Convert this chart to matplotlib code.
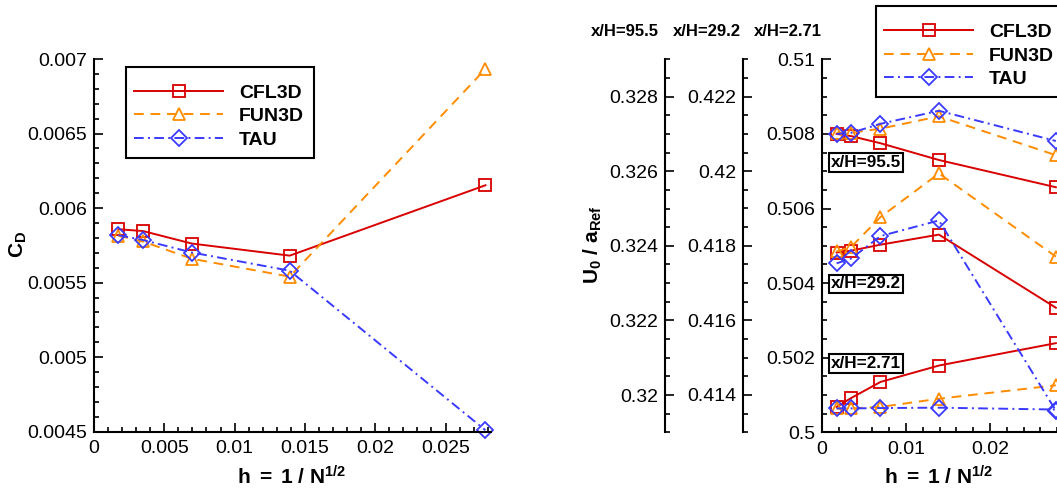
import numpy as np
import matplotlib
matplotlib.use("Agg")
import matplotlib.pyplot as plt
from matplotlib.ticker import MultipleLocator, FuncFormatter
from matplotlib.patches import Rectangle

plt.rcParams['font.family'] = ['Liberation Sans', 'DejaVu Sans']
plt.rcParams['mathtext.fontset'] = 'custom'
plt.rcParams['mathtext.rm'] = 'Liberation Sans'
plt.rcParams['mathtext.it'] = 'Liberation Sans:italic'
plt.rcParams['mathtext.bf'] = 'Liberation Sans:bold'

# grid spacing h = 1 / N^(1/2)
h = [0.00174, 0.00348, 0.00696, 0.01392, 0.02784]
codes = ['CFL3D', 'FUN3D', 'TAU']

# drag coefficient
cd_cfl3d = [0.005858, 0.005846, 0.005762, 0.005681, 0.006153]
cd_fun3d = [0.005815, 0.005776, 0.005660, 0.005540, 0.006933]
cd_tau = [0.005818, 0.005786, 0.005702, 0.005580, 0.004510]

# U0 / aRef at three stations
u955_cfl3d = [0.32700, 0.32694, 0.32675, 0.32630, 0.32557]
u955_fun3d = [0.32703, 0.32703, 0.32714, 0.32747, 0.32643]
u955_tau = [0.32700, 0.32703, 0.32727, 0.32762, 0.32681]

u292_cfl3d = [0.41782, 0.41787, 0.41803, 0.41830, 0.41634]
u292_fun3d = [0.41785, 0.41797, 0.41877, 0.41994, 0.41771]
u292_tau = [0.41753, 0.41766, 0.41826, 0.41868, 0.41358]

u271_cfl3d = [0.50068, 0.50092, 0.50135, 0.50179, 0.50239]
u271_fun3d = [0.50064, 0.50064, 0.50068, 0.50090, 0.50126]
u271_tau = [0.50064, 0.50064, 0.50065, 0.50066, 0.50061]

colors = {'CFL3D': '#d80000', 'FUN3D': '#ff8c00', 'TAU': '#3a3aff'}
markers = {'CFL3D': 's', 'FUN3D': '^', 'TAU': 'D'}
msizes = {'CFL3D': 8, 'FUN3D': 9, 'TAU': 7.8}
dashes = {'CFL3D': [], 'FUN3D': [5, 3.5], 'TAU': [5, 2.2, 1, 2.2]}

W, H = 1057, 492
fig = plt.figure(figsize=(W / 100, H / 100), dpi=100)


def px_axes(x0, y0, x1, y1):
    return fig.add_axes([x0 / W, 1 - y1 / H, (x1 - x0) / W, (y1 - y0) / H])


def draw(ax, x, y, code):
    ln, = ax.plot(x, y, color=colors[code], lw=1.4, marker=markers[code],
                  ms=msizes[code], mfc='none', mew=1.3, label=code,
                  clip_on=False)
    if dashes[code]:
        ln.set_dashes(dashes[code])
    return ln


def fmt(v, pos):
    return '%g' % round(v, 6)


def style(ax):
    ax.tick_params(which='both', direction='in', labelsize=14, width=1.2)
    ax.tick_params(which='major', length=6.5, pad=5)
    ax.tick_params(which='minor', length=3.6)
    for s in ax.spines.values():
        s.set_linewidth(1.5)
    ax.spines['top'].set_visible(False)
    ax.spines['right'].set_visible(False)
    ax.patch.set_visible(False)


def legend_box(handles, x0, y0, x1, y1, xh, yc):
    # frame drawn by hand, entries placed inside it
    fig.patches.append(Rectangle((x0 / W, 1 - y1 / H), (x1 - x0) / W,
                                 (y1 - y0) / H, transform=fig.transFigure,
                                 fc='white', ec='black', lw=1.5, zorder=4))
    leg = fig.legend(handles, codes, loc='center left',
                     bbox_to_anchor=(xh / W, 1 - yc / H), borderaxespad=0,
                     borderpad=0, frameon=False, numpoints=1,
                     handlelength=4.6, handletextpad=0.8, labelspacing=0.31,
                     prop=dict(weight='bold', size=14))
    leg.set_zorder(5)
    return leg


# ---------- left: drag coefficient ----------
ax1 = px_axes(94, 59, 490.5, 431.7)
h1 = []
for code, vals in zip(codes, [cd_cfl3d, cd_fun3d, cd_tau]):
    h1.append(draw(ax1, h, vals, code))
ax1.set_xlim(0, 0.0282)
ax1.set_ylim(0.0045, 0.007)
ax1.xaxis.set_major_locator(MultipleLocator(0.005))
ax1.xaxis.set_minor_locator(MultipleLocator(0.001))
ax1.yaxis.set_major_locator(MultipleLocator(0.0005))
ax1.yaxis.set_minor_locator(MultipleLocator(0.0001))
ax1.xaxis.set_major_formatter(FuncFormatter(fmt))
ax1.yaxis.set_major_formatter(FuncFormatter(fmt))
style(ax1)
ax1.tick_params(axis='x', which='major', pad=6)

fig.text(18 / W, 1 - 244 / H, r'$\mathbf{C_D}$', rotation=90, ha='center',
         va='center', fontsize=15)
fig.text(292 / W, 1 - 477 / H, r'$\mathbf{h\ =\ 1\ /\ N^{1/2}}$',
         ha='center', va='center', fontsize=15)

legend_box(h1, 126, 66.7, 314, 157.7, 134, 116.4)

# ---------- right: velocity at three stations ----------
x_main0, x_main1 = 822, 822 + 0.0285 * 8400
ax2 = px_axes(x_main0, 59.3, x_main1, 432.3)
ax2.set_xlim(0, 0.0285)
ax2.set_ylim(0.5, 0.51)
ax2.xaxis.set_major_locator(MultipleLocator(0.01))
ax2.xaxis.set_minor_locator(MultipleLocator(0.002))
ax2.yaxis.set_major_locator(MultipleLocator(0.002))
ax2.yaxis.set_minor_locator(MultipleLocator(0.0005))
ax2.xaxis.set_major_formatter(FuncFormatter(fmt))
ax2.yaxis.set_major_formatter(FuncFormatter(fmt))
style(ax2)
ax2.tick_params(axis='x', which='major', pad=6)

extra = [(665.3, (0.319, 0.329)), (743.3, (0.413, 0.423))]
stations = []
for xpix, lims in extra:
    axt = ax2.twinx()
    axt.set_ylim(*lims)
    axt.yaxis.set_ticks_position('left')
    axt.yaxis.set_label_position('left')
    axt.spines['left'].set_visible(True)
    axt.spines['left'].set_position(('axes', (xpix - x_main0) / (x_main1 - x_main0)))
    axt.yaxis.set_major_locator(MultipleLocator(0.002))
    axt.yaxis.set_minor_locator(MultipleLocator(0.0005))
    axt.yaxis.set_major_formatter(FuncFormatter(fmt))
    style(axt)
    axt.spines['bottom'].set_visible(False)
    stations.append(axt)

h2 = []
for code, vals in zip(codes, [u955_cfl3d, u955_fun3d, u955_tau]):
    draw(stations[0], h, vals, code)
for code, vals in zip(codes, [u292_cfl3d, u292_fun3d, u292_tau]):
    draw(stations[1], h, vals, code)
for code, vals in zip(codes, [u271_cfl3d, u271_fun3d, u271_tau]):
    h2.append(draw(ax2, h, vals, code))

for txt, xc in [('x/H=95.5', 625), ('x/H=29.2', 706.7), ('x/H=2.71', 788.3)]:
    fig.text(xc / W, 1 - 31.7 / H, txt, ha='center', va='center',
             fontsize=12, fontweight='bold')

for txt, yc in [('x/H=95.5', 162.5), ('x/H=29.2', 284), ('x/H=2.71', 363.5)]:
    fig.text(831 / W, 1 - yc / H, txt, ha='left', va='center', fontsize=12.3,
             fontweight='bold', zorder=10,
             bbox=dict(boxstyle='square,pad=0.1', fc='white', ec='black',
                       lw=1.5))

fig.text(593 / W, 1 - 245 / H, r'$\mathbf{U_0\ /\ a_{Ref}}$', rotation=90,
         ha='center', va='center', fontsize=15)
fig.text(939 / W, 1 - 477 / H, r'$\mathbf{h\ =\ 1\ /\ N^{1/2}}$',
         ha='center', va='center', fontsize=15)

legend_box(h2, 875.7, 5.7, 1070, 97.3, 884, 55.8)

fig.savefig('out.png', dpi=100)
